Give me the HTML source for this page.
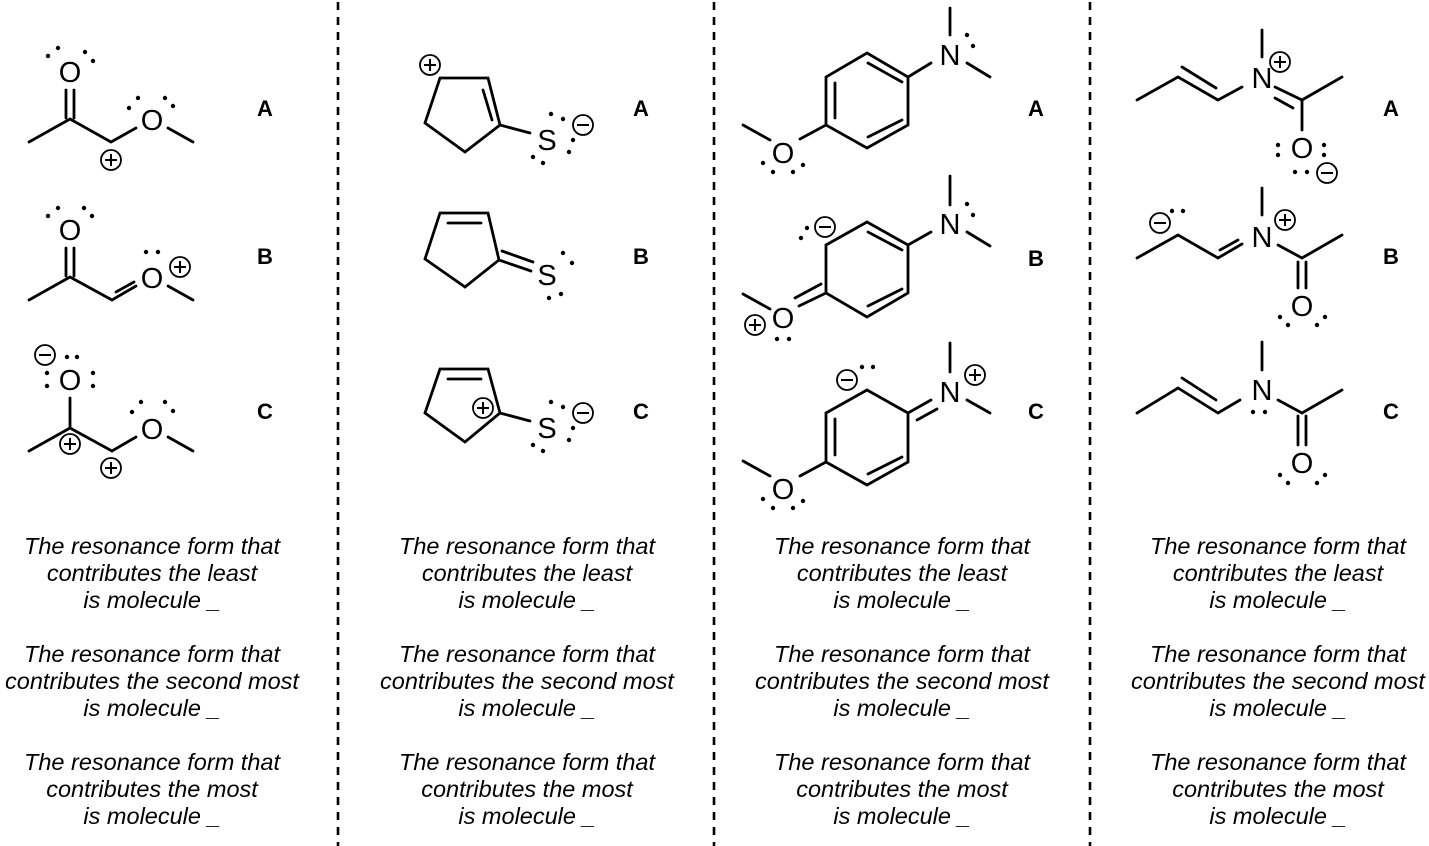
<!DOCTYPE html>
<html><head><meta charset="utf-8"><style>
html,body{margin:0;padding:0;background:#fff;}
svg{display:block;}
.b{stroke:#000;stroke-width:2.8;fill:none;stroke-linecap:round;}
.at{font-family:"Liberation Sans",sans-serif;font-size:29px;text-anchor:middle;fill:#000;}
.lb{font-family:"Liberation Sans",sans-serif;font-size:22px;font-weight:bold;text-anchor:middle;fill:#000;}
.tx{font-family:"Liberation Sans",sans-serif;font-size:23.5px;font-style:italic;text-anchor:middle;fill:#000;}
</style></head><body>
<svg width="1429" height="846" viewBox="0 0 1429 846" xmlns="http://www.w3.org/2000/svg">
<defs>
<g id="p"><circle cx="0" cy="0" r="10" fill="#fff" stroke="#000" stroke-width="1.8"/><path d="M-6 0H6M0 -6V6" stroke="#000" stroke-width="2"/></g>
<g id="m"><circle cx="0" cy="0" r="10" fill="#fff" stroke="#000" stroke-width="1.8"/><path d="M-6 0H6" stroke="#000" stroke-width="2"/></g>
</defs>
<g stroke="#000" stroke-width="2.6" stroke-dasharray="8 7">
<line x1="338" y1="2" x2="338" y2="846"/><line x1="714" y1="2" x2="714" y2="846"/><line x1="1090" y1="2" x2="1090" y2="846"/>
</g>

<!-- Panel 1 -->
<g class="b">
<path d="M29 142L70 119L111 142L136 128M168 128L193 142M66 90V118M74 90V118"/>
<path d="M29 300L70 277L112 300L136 286M168 286L193 300M66 248V276M74 248V276M116 292L134 282"/>
<path d="M29 451L70 428L112 451L136 437M168 437L193 451M70 398V428"/>
</g>
<text class="at" x="70" y="82">O</text><text class="at" x="152" y="130">O</text>
<text class="at" x="70" y="240">O</text><text class="at" x="152" y="288">O</text>
<text class="at" x="70" y="390">O</text><text class="at" x="152" y="439">O</text>
<g fill="#000">
<circle cx="48" cy="56" r="2.2"/><circle cx="58" cy="48" r="2.2"/><circle cx="85" cy="52" r="2.2"/><circle cx="93" cy="61" r="2.2"/>
<circle cx="129" cy="108" r="2.2"/><circle cx="138" cy="98" r="2.2"/><circle cx="165" cy="98" r="2.2"/><circle cx="173" cy="106" r="2.2"/>
<circle cx="48" cy="216" r="2.2"/><circle cx="58" cy="208" r="2.2"/><circle cx="84" cy="208" r="2.2"/><circle cx="92" cy="216" r="2.2"/>
<circle cx="146" cy="252" r="2.2"/><circle cx="158" cy="252" r="2.2"/>
<circle cx="67" cy="357" r="2.2"/><circle cx="77" cy="357" r="2.2"/><circle cx="47" cy="373" r="2.2"/><circle cx="47" cy="386" r="2.2"/><circle cx="93" cy="373" r="2.2"/><circle cx="93" cy="386" r="2.2"/>
<circle cx="132" cy="412" r="2.2"/><circle cx="141" cy="402" r="2.2"/><circle cx="165" cy="402" r="2.2"/><circle cx="173" cy="411" r="2.2"/>
</g>
<use href="#p" x="111" y="160"/><use href="#p" x="180" y="267"/><use href="#m" x="45" y="355"/><use href="#p" x="70" y="444"/><use href="#p" x="111" y="468"/>
<text class="lb" x="265" y="116">A</text><text class="lb" x="265" y="264">B</text><text class="lb" x="265" y="419">C</text>

<!-- Panel 2 -->
<g class="b">
<path d="M440 78L488 78L500 125L465 152L425 123Z M483 90L492 120 M500 125L530 133"/>
<path d="M440 213L488 213L499 260L465 287L425 259Z M448 223L481 223 M499 260L531 271 M502 251L533 262"/>
<path d="M440 369L488 369L500 413L465 442L425 413Z M448 379L481 379 M500 413L530 421"/>
</g>
<text class="at" x="547" y="150">S</text><text class="at" x="547" y="285">S</text><text class="at" x="547" y="438">S</text>
<g fill="#000">
<circle cx="551" cy="114" r="2.2"/><circle cx="563" cy="119" r="2.2"/><circle cx="573" cy="140" r="2.2"/><circle cx="569" cy="152" r="2.2"/><circle cx="533" cy="157" r="2.2"/><circle cx="543" cy="163" r="2.2"/>
<circle cx="563" cy="253" r="2.2"/><circle cx="572" cy="263" r="2.2"/><circle cx="549" cy="298" r="2.2"/><circle cx="561" cy="294" r="2.2"/>
<circle cx="551" cy="402" r="2.2"/><circle cx="563" cy="407" r="2.2"/><circle cx="573" cy="428" r="2.2"/><circle cx="569" cy="440" r="2.2"/><circle cx="533" cy="445" r="2.2"/><circle cx="543" cy="451" r="2.2"/>
</g>
<use href="#p" x="430" y="65"/><use href="#m" x="583" y="125"/><use href="#p" x="483" y="408"/><use href="#m" x="583" y="413"/>
<text class="lb" x="641" y="116">A</text><text class="lb" x="641" y="264">B</text><text class="lb" x="641" y="419">C</text>

<!-- Panel 3 -->
<g class="b">
<path d="M867 53L908 77L908 125L867 148L826 125L826 77Z M835 83V118 M868 63L902 82 M868 137L902 120 M908 77L931 63 M950 8V35 M967 63L990 77 M826 125L800 139 M743 125L770 140"/>
<path d="M867 222L908 245L908 293L867 317L826 293L826 245Z M868 232L902 250 M868 306L902 289 M908 245L931 232 M950 176V205 M967 232L990 246 M826 293L799 306 M821 284L795 298 M743 294L770 309"/>
<path d="M867 390L908 413L908 462L867 485L826 462L826 413Z M835 419V455 M868 474L902 457 M908 413L931 400 M917 420L937 409 M950 343V372 M967 400L990 413 M826 462L800 476 M743 461L770 476"/>
</g>
<text class="at" x="950" y="65">N</text><text class="at" x="783" y="163">O</text>
<text class="at" x="950" y="234">N</text><text class="at" x="783" y="328">O</text>
<text class="at" x="950" y="402">N</text><text class="at" x="783" y="499">O</text>
<g fill="#000">
<circle cx="967" cy="35" r="2.2"/><circle cx="973" cy="46" r="2.2"/>
<circle cx="763" cy="163" r="2.2"/><circle cx="773" cy="172" r="2.2"/><circle cx="793" cy="172" r="2.2"/><circle cx="803" cy="165" r="2.2"/>
<circle cx="967" cy="204" r="2.2"/><circle cx="973" cy="215" r="2.2"/>
<circle cx="801" cy="238" r="2.2"/><circle cx="807" cy="228" r="2.2"/><circle cx="777" cy="339" r="2.2"/><circle cx="789" cy="339" r="2.2"/>
<circle cx="862" cy="367" r="2.2"/><circle cx="873" cy="367" r="2.2"/>
<circle cx="763" cy="499" r="2.2"/><circle cx="773" cy="508" r="2.2"/><circle cx="793" cy="508" r="2.2"/><circle cx="803" cy="501" r="2.2"/>
</g>
<use href="#m" x="825" y="227"/><use href="#p" x="755" y="325"/><use href="#p" x="975" y="375"/><use href="#m" x="847" y="380"/>
<text class="lb" x="1036" y="116">A</text><text class="lb" x="1036" y="266">B</text><text class="lb" x="1036" y="419">C</text>

<!-- Panel 4 -->
<g class="b">
<path d="M1137 100L1178 77L1218 100L1242 87 M1182 67L1216 88 M1262 30V57 M1275 87L1302 100L1342 77 M1275 98L1293 108 M1302 100V130"/>
<path d="M1137 258L1178 235L1218 258L1242 244 M1220 250L1238 240 M1262 188V215 M1278 245L1302 258L1342 235 M1298 262V288 M1306 262V288"/>
<path d="M1137 413L1178 388L1218 413L1240 400 M1182 378L1216 400 M1262 342V370 M1278 400L1302 413L1342 390 M1298 416V445 M1306 416V445"/>
</g>
<text class="at" x="1262" y="88">N</text><text class="at" x="1302" y="158">O</text>
<text class="at" x="1262" y="247">N</text><text class="at" x="1302" y="316">O</text>
<text class="at" x="1262" y="400">N</text><text class="at" x="1302" y="473">O</text>
<g fill="#000">
<circle cx="1278" cy="145" r="2.2"/><circle cx="1278" cy="155" r="2.2"/><circle cx="1324" cy="145" r="2.2"/><circle cx="1324" cy="155" r="2.2"/><circle cx="1295" cy="172" r="2.2"/><circle cx="1307" cy="172" r="2.2"/>
<circle cx="1172" cy="211" r="2.2"/><circle cx="1183" cy="211" r="2.2"/>
<circle cx="1280" cy="317" r="2.2"/><circle cx="1288" cy="325" r="2.2"/><circle cx="1317" cy="325" r="2.2"/><circle cx="1325" cy="317" r="2.2"/>
<circle cx="1253" cy="412" r="2.2"/><circle cx="1265" cy="412" r="2.2"/>
<circle cx="1280" cy="475" r="2.2"/><circle cx="1288" cy="483" r="2.2"/><circle cx="1317" cy="483" r="2.2"/><circle cx="1325" cy="475" r="2.2"/>
</g>
<use href="#p" x="1280" y="62"/><use href="#m" x="1327" y="173"/><use href="#m" x="1160" y="223"/><use href="#p" x="1285" y="220"/>
<text class="lb" x="1391" y="116">A</text><text class="lb" x="1391" y="264">B</text><text class="lb" x="1391" y="419">C</text>

<!-- Text blocks -->
<g class="tx">
<text x="152" y="554">The resonance form that</text><text x="152" y="581">contributes the least</text><text x="152" y="608">is molecule _</text>
<text x="152" y="662">The resonance form that</text><text x="152" y="689">contributes the second most</text><text x="152" y="716">is molecule _</text>
<text x="152" y="770">The resonance form that</text><text x="152" y="797">contributes the most</text><text x="152" y="824">is molecule _</text>
<text x="527" y="554">The resonance form that</text><text x="527" y="581">contributes the least</text><text x="527" y="608">is molecule _</text>
<text x="527" y="662">The resonance form that</text><text x="527" y="689">contributes the second most</text><text x="527" y="716">is molecule _</text>
<text x="527" y="770">The resonance form that</text><text x="527" y="797">contributes the most</text><text x="527" y="824">is molecule _</text>
<text x="902" y="554">The resonance form that</text><text x="902" y="581">contributes the least</text><text x="902" y="608">is molecule _</text>
<text x="902" y="662">The resonance form that</text><text x="902" y="689">contributes the second most</text><text x="902" y="716">is molecule _</text>
<text x="902" y="770">The resonance form that</text><text x="902" y="797">contributes the most</text><text x="902" y="824">is molecule _</text>
<text x="1278" y="554">The resonance form that</text><text x="1278" y="581">contributes the least</text><text x="1278" y="608">is molecule _</text>
<text x="1278" y="662">The resonance form that</text><text x="1278" y="689">contributes the second most</text><text x="1278" y="716">is molecule _</text>
<text x="1278" y="770">The resonance form that</text><text x="1278" y="797">contributes the most</text><text x="1278" y="824">is molecule _</text>
</g>
</svg>
</body></html>
